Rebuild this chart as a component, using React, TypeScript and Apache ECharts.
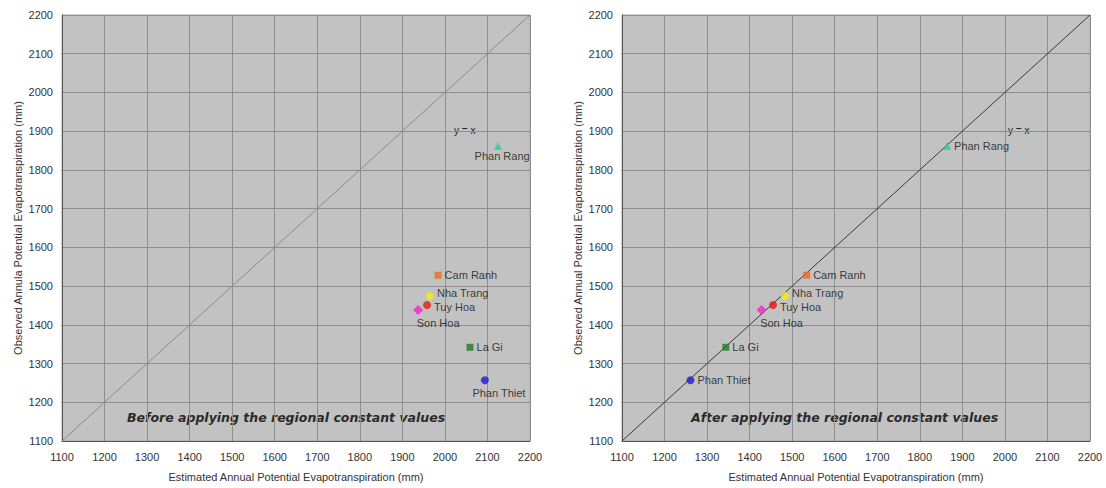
import React, { useEffect, useRef } from "react";
import * as echarts from "echarts";

const stations = ["Phan Rang", "Cam Ranh", "Nha Trang", "Tuy Hoa", "Son Hoa", "La Gi", "Phan Thiet"];
const observed = [1862, 1528, 1474, 1451, 1438, 1342, 1257];
const estimatedBefore = [2125, 1984, 1965, 1958, 1937, 2059, 2094];
const estimatedAfter = [1864, 1534, 1483, 1455, 1428, 1344, 1261];
const axisTicks = [1100, 1200, 1300, 1400, 1500, 1600, 1700, 1800, 1900, 2000, 2100, 2200];

const colors = ["#36c98f", "#ee6b22", "#f5ec10", "#e81515", "#f522d0", "#1f7a2a", "#1c1cd0"];
const symbols = ["triangle", "rect", "circle", "circle", "diamond", "rect", "circle"];

const labelBefore: any[] = [
  { position: "bottom", offset: [4, -2] },
  { position: "right", offset: [0, 0] },
  { position: "right", offset: [0, -3] },
  { position: "right", offset: [0, 2] },
  { position: "bottom", offset: [20, -1] },
  { position: "right", offset: [0, 0] },
  { position: "bottom", offset: [14, 0] },
];
const labelAfter: any[] = [
  { position: "right", offset: [0, 0] },
  { position: "right", offset: [0, 0] },
  { position: "right", offset: [0, -3] },
  { position: "right", offset: [0, 2] },
  { position: "bottom", offset: [20, -1] },
  { position: "right", offset: [0, 0] },
  { position: "right", offset: [0, 0] },
];

const FONT = "Liberation Sans";
const minV = axisTicks[0];
const maxV = axisTicks[axisTicks.length - 1];

function axis(gridIndex: number, name: string, isY: boolean) {
  return {
    type: "value",
    gridIndex,
    min: minV,
    max: maxV,
    interval: 100,
    name,
    nameLocation: "middle",
    nameGap: isY ? 39 : 30,
    nameTextStyle: { fontFamily: FONT, fontSize: 11, color: "#333" },
    axisLine: { show: true, lineStyle: { color: "#555", width: 1 } },
    axisTick: { show: false },
    axisLabel: { fontFamily: FONT, fontSize: 11, color: "#333", margin: isY ? 9 : 10, formatter: (v: number) => String(v) },
    splitLine: { show: true, lineStyle: { color: "#8e8e8e", width: 1 } },
  };
}

export default function App() {
  const ref = useRef<HTMLDivElement>(null);
  useEffect(() => {
    const chart = echarts.init(ref.current!, null, { renderer: "svg" });
    const series: any[] = [];
    [0, 1].forEach((g) => {
      const est = g === 0 ? estimatedBefore : estimatedAfter;
      const labs = g === 0 ? labelBefore : labelAfter;
      series.push({
        type: "line",
        xAxisIndex: g,
        yAxisIndex: g,
        data: [[minV, minV], [maxV, maxV]],
        symbol: "none",
        lineStyle: { color: g === 0 ? "#8a8a8a" : "#3a3a3a", width: 1 },
        z: 1,
      });
      stations.forEach((s, i) => {
        series.push({
          type: "scatter",
          name: s,
          xAxisIndex: g,
          yAxisIndex: g,
          data: [[est[i], observed[i]]],
          symbol: symbols[i],
          symbolSize: symbols[i] === "rect" ? 7 : symbols[i] === "diamond" ? 10 : 8,
          itemStyle: { color: colors[i] },
          label: {
            show: true,
            formatter: s,
            position: labs[i].position,
            offset: labs[i].offset,
            distance: 3,
            fontFamily: FONT,
            fontSize: 11,
            color: "#111",
          },
          z: 3,
        });
      });
    });
    chart.setOption({
      animation: false,
      backgroundColor: "#ffffff",
      grid: [
        { left: 62, top: 15, width: 468, height: 426, show: true, backgroundColor: "#c2c2c2", borderColor: "#a8a8a8", borderWidth: 1 },
        { left: 622, top: 15, width: 468, height: 426, show: true, backgroundColor: "#c2c2c2", borderColor: "#a8a8a8", borderWidth: 1 },
      ],
      xAxis: [
        axis(0, "Estimated Annual Potential Evapotranspiration (mm)", false),
        axis(1, "Estimated Annual Potential Evapotranspiration (mm)", false),
      ],
      yAxis: [
        axis(0, "Observed Annula Potential Evapotranspiration (mm)", true),
        axis(1, "Observed Annual Potential Evapotranspiration (mm)", true),
      ],
      series,
      graphic: [
        { type: "text", left: 454, top: 125, style: { text: "y = x", fontFamily: FONT, fontSize: 10, fill: "#222" } },
        { type: "text", left: 1008, top: 125, style: { text: "y = x", fontFamily: FONT, fontSize: 10, fill: "#222" } },
        { type: "text", left: 127, top: 411, style: { text: "Before applying the regional constant values", fontFamily: "DejaVu Sans", fontStyle: "italic", fontWeight: "bold", fontSize: 12.5, fill: "#2a2a2a" } },
        { type: "text", left: 691, top: 411, style: { text: "After applying the regional constant values", fontFamily: "DejaVu Sans", fontStyle: "italic", fontWeight: "bold", fontSize: 12.5, fill: "#2a2a2a" } },
      ],
    });
    return () => chart.dispose();
  }, []);
  return <div ref={ref} style={{ position: "fixed", left: 0, top: 0, width: 1106, height: 488 }} />;
}
